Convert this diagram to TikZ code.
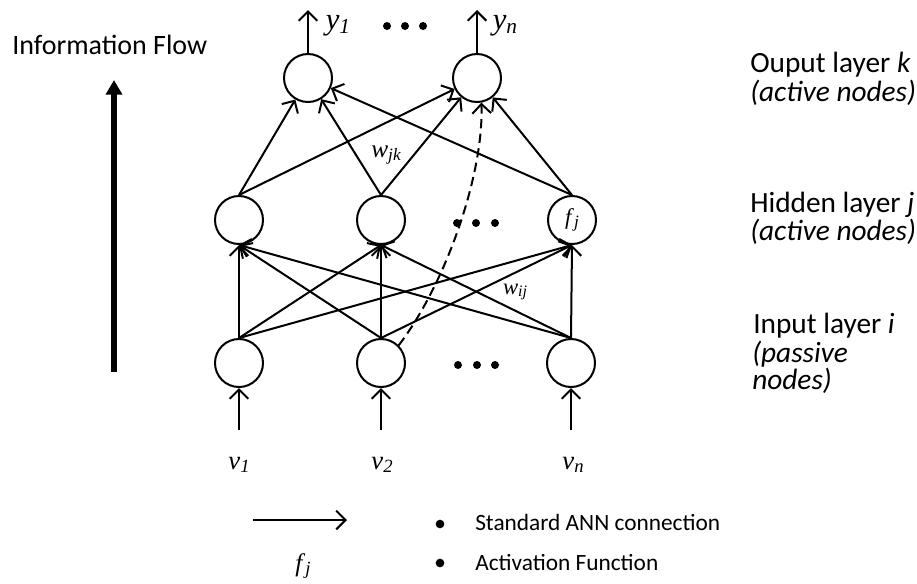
\documentclass[tikz,border=0pt]{standalone}
\usepackage{fontspec}
\setmainfont{Carlito}
\newfontfamily\tnr{Liberation Serif}
\usetikzlibrary{arrows.meta}

% italic Times-style variable with a lowered subscript
\newcommand{\mv}[4]{{\tnr\itshape\fontsize{#3}{#3}\selectfont #1\raisebox{-0.28ex}{\fontsize{#4}{#4}\selectfont #2}}}

\tikzset{
  neuron/.style={circle, draw, line width=1.5pt, minimum size=36pt, inner sep=0pt},
  conn/.style={line width=1.5pt, -{Straight Barb[length=7pt, width=14pt, line width=1.5pt]}},
  dashconn/.style={conn, dash pattern=on 7pt off 4pt},
  flowarrow/.style={line width=3.8pt, -{Triangle[length=11pt, width=12pt]}},
  flowtext/.style={font=\fontsize{21}{25}\selectfont, inner sep=0pt, anchor=base west},
  captext/.style={font=\fontsize{22}{26}\selectfont, inner sep=0pt, anchor=base west},
  legendtext/.style={font=\fontsize{17.5}{21}\selectfont, inner sep=0pt, anchor=base west},
  dot/.style={circle, fill, inner sep=0pt, minimum size=6pt},
  bigdot/.style={circle, fill, inner sep=0pt, minimum size=6.5pt}
}

\begin{document}
\begin{tikzpicture}[x=0.75pt, y=-0.75pt]
\useasboundingbox (0,0) rectangle (917,583);

% input layer
\node[neuron] (i1) at (239,363) {};
\node[neuron] (i2) at (381,363) {};
\node[neuron] (i3) at (571,363) {};
% hidden layer
\node[neuron] (h1) at (239,220) {};
\node[neuron] (h2) at (381,220) {};
\node[neuron] (h3) at (572,220) {\mv{f}{\,j}{17}{13}};
% output layer
\node[neuron] (o1) at (308,78) {};
\node[neuron] (o2) at (477,78) {};

% free ends of the input and output arrows
\coordinate (in1) at (239,430);
\coordinate (in2) at (381,430);
\coordinate (in3) at (571,430);
\coordinate (out1) at (308,10);
\coordinate (out2) at (477,10);

\draw[conn] (in1) -- (i1);
\draw[conn] (in2) -- (i2);
\draw[conn] (in3) -- (i3);
\draw[conn] (o1) -- (out1);
\draw[conn] (o2) -- (out2);

% input -> hidden
\foreach \a in {i1,i2,i3}
  \foreach \b in {h1,h2,h3}
    \draw[conn] (\a.north) -- (\b.south);

% hidden -> output
\foreach \a in {h1,h2,h3}
  \foreach \b in {o1,o2}
    \draw[conn] (\a.north) -- (\b);

% skip connection through the activation function
\draw[dashconn] (i2.45) .. controls (445,285) and (484,175) .. (o2.-80);

% ellipsis dots
\node[dot] (d1) at (387,26) {};
\node[dot] (d2) at (405,26) {};
\node[dot] (d3) at (423,26) {};
\node[dot] (d4) at (457,223) {};
\node[dot] (d5) at (476,223) {};
\node[dot] (d6) at (495,223) {};
\node[dot] (d7) at (458,365) {};
\node[dot] (d8) at (477,365) {};
\node[dot] (d9) at (495,365) {};

% variable labels
\node (ly1) at (338,26) {\mv{y}{1}{23}{16}};
\node (lyn) at (505,26) {\mv{y}{n}{23}{16}};
\node (lv1) at (239,465) {\mv{v}{1}{20}{14}};
\node (lv2) at (382,465) {\mv{v}{2}{20}{14}};
\node (lvn) at (573,465) {\mv{v}{n}{20}{14}};
\node (lwjk) at (386,155) {\mv{w}{jk}{19}{13}};
\node (lwij) at (515,292) {\mv{w}{ij}{17}{12}};

% layer captions
\node[flowtext] (t1) at (12,54) {Information Flow};
\node[captext] (t2) at (750,72) {Ouput layer \textit{k}};
\node[captext] (t3) at (750,101) {\textit{(active nodes)}};
\node[captext] (t4) at (750,212) {Hidden layer \textit{j}};
\node[captext] (t5) at (750,240) {\textit{(active nodes)}};
\node[captext] (t6) at (753,333) {Input layer \textit{i}};
\node[captext] (t7) at (752,362) {\textit{(passive}};
\node[captext] (t8) at (752,389) {\textit{nodes)}};

% information flow arrow
\coordinate (fb) at (114,372);
\coordinate (ft) at (114,80);
\draw[flowarrow] (fb) -- (ft);

% legend
\coordinate (la) at (253,520);
\coordinate (lb) at (347,520);
\draw[conn] (la) -- (lb);
\node (lfj) at (303,566) {\mv{f}{\,j}{19}{14}};
\node[bigdot] (b1) at (440,524) {};
\node[bigdot] (b2) at (440,563) {};
\node[legendtext] (s1) at (475,530) {Standard ANN connection};
\node[legendtext] (s2) at (475,570) {Activation Function};
\end{tikzpicture}
\end{document}
